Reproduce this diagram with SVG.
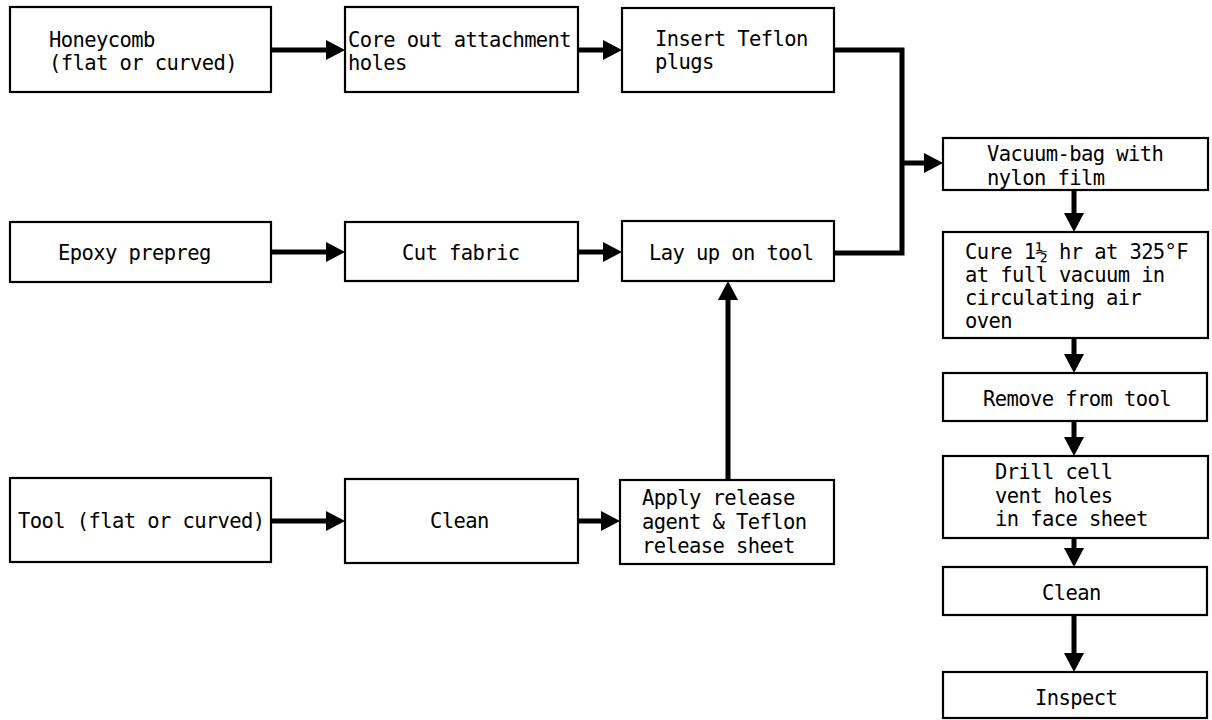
<svg xmlns="http://www.w3.org/2000/svg" width="1212" height="720" viewBox="0 0 1212 720">
<style>
.box{fill:#fff;stroke:#000;stroke-width:2.2}
.t{font-family:"DejaVu Sans Mono","Liberation Mono",monospace;font-size:20.5px;letter-spacing:-0.6px;fill:#000}
.c{fill:none;stroke:#000;stroke-width:5}
.a{marker-end:url(#ah)}
</style>
<defs>
<marker id="ah" viewBox="0 -10 19 20" refX="0" refY="0" markerWidth="19" markerHeight="20" markerUnits="userSpaceOnUse" orient="auto">
<path d="M0,-10 L19,0 L0,10 z" fill="#000"/>
</marker>
</defs>
<rect width="1212" height="720" fill="#fff"/>
<g id="connectors">
<line class="c a" x1="271" y1="50" x2="326" y2="50"/>
<line class="c a" x1="578" y1="50" x2="603" y2="50"/>
<line class="c a" x1="271" y1="252" x2="326" y2="252"/>
<line class="c a" x1="578" y1="252" x2="603" y2="252"/>
<line class="c a" x1="271" y1="521" x2="326" y2="521"/>
<line class="c a" x1="578" y1="521" x2="601" y2="521"/>
<line class="c a" x1="728" y1="480" x2="728" y2="300"/>
<path class="c" d="M834,50 H902 V253 H834"/>
<line class="c a" x1="902" y1="163" x2="924" y2="163"/>
<line class="c a" x1="1074" y1="190" x2="1074" y2="213"/>
<line class="c a" x1="1074" y1="338" x2="1074" y2="354"/>
<line class="c a" x1="1074" y1="421" x2="1074" y2="437"/>
<line class="c a" x1="1074" y1="538" x2="1074" y2="548"/>
<line class="c a" x1="1074" y1="615" x2="1074" y2="653"/>
</g>
<g id="honeycomb"><rect class="box" x="10" y="7" width="261" height="85"/><text class="t" x="49" y="47">Honeycomb</text><text class="t" x="49" y="70">(flat or curved)</text></g>
<g id="core-out"><rect class="box" x="345" y="7" width="233" height="85"/><text class="t" x="348" y="47">Core out attachment</text><text class="t" x="348" y="70">holes</text></g>
<g id="insert-teflon"><rect class="box" x="622" y="8" width="212" height="84"/><text class="t" x="655" y="46">Insert Teflon</text><text class="t" x="655" y="69">plugs</text></g>
<g id="epoxy"><rect class="box" x="10" y="222" width="261" height="60"/><text class="t" x="58" y="260">Epoxy prepreg</text></g>
<g id="cut-fabric"><rect class="box" x="345" y="222" width="233" height="59"/><text class="t" x="402" y="260">Cut fabric</text></g>
<g id="lay-up"><rect class="box" x="622" y="221" width="212" height="60"/><text class="t" x="649" y="260">Lay up on tool</text></g>
<g id="tool"><rect class="box" x="10" y="478" width="261" height="84"/><text class="t" x="18" y="528">Tool (flat or curved)</text></g>
<g id="clean1"><rect class="box" x="345" y="479" width="233" height="84"/><text class="t" x="430" y="528">Clean</text></g>
<g id="apply-release"><rect class="box" x="620" y="480" width="214" height="84"/><text class="t" x="642" y="505">Apply release</text><text class="t" x="642" y="529">agent &amp; Teflon</text><text class="t" x="642" y="553">release sheet</text></g>
<g id="vacuum-bag"><rect class="box" x="943" y="138" width="265" height="52"/><text class="t" x="987" y="161">Vacuum-bag with</text><text class="t" x="987" y="185">nylon film</text></g>
<g id="cure"><rect class="box" x="943" y="232" width="265" height="106"/><text class="t" x="965" y="259">Cure 1½ hr at 325°F</text><text class="t" x="965" y="282">at full vacuum in</text><text class="t" x="965" y="305">circulating air</text><text class="t" x="965" y="328">oven</text></g>
<g id="remove"><rect class="box" x="943" y="373" width="264" height="48"/><text class="t" x="983" y="406">Remove from tool</text></g>
<g id="drill"><rect class="box" x="943" y="456" width="265" height="82"/><text class="t" x="995" y="479">Drill cell</text><text class="t" x="995" y="503">vent holes</text><text class="t" x="995" y="526">in face sheet</text></g>
<g id="clean2"><rect class="box" x="943" y="567" width="264" height="48"/><text class="t" x="1042" y="600">Clean</text></g>
<g id="inspect"><rect class="box" x="943" y="672" width="264" height="46"/><text class="t" x="1035" y="705">Inspect</text></g>
</svg>
